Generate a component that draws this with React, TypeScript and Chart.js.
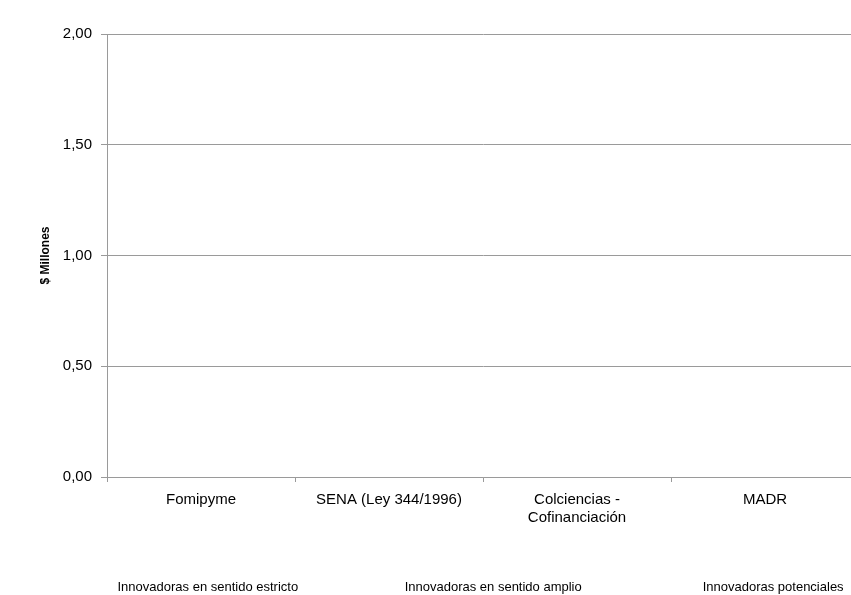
import React, { useEffect, useRef } from "react";
import { Chart, registerables } from "chart.js";

Chart.register(...registerables);

const categories: (string | string[])[] = [
  "Fomipyme",
  "SENA (Ley 344/1996)",
  ["Colciencias -", "Cofinanciación"],
  "MADR",
];
const seriesNames = [
  "Innovadoras en sentido estricto",
  "Innovadoras en sentido amplio",
  "Innovadoras potenciales",
];
const estricto = [0, 0, 0, 0];
const amplio = [0, 0, 0, 0];
const potenciales = [0, 0, 0, 0];
const yMin = 0;
const yMax = 2;
const yStep = 0.5;
const yTitle = "$ Millones";

const GRAY = "#9a9a9a";
const FONT = "'Liberation Sans', Arial, sans-serif";

export default function App() {
  const ref = useRef<HTMLCanvasElement>(null);
  useEffect(() => {
    if (!ref.current) return;
    const chart = new Chart(ref.current, {
      type: "bar",
      data: {
        labels: categories,
        datasets: [estricto, amplio, potenciales].map((d, i) => ({
          label: seriesNames[i],
          data: d,
          backgroundColor: "rgba(0,0,0,0)",
          borderColor: "rgba(0,0,0,0)",
          borderWidth: 0,
        })),
      },
      options: {
        animation: false,
        responsive: false,
        maintainAspectRatio: false,
        layout: { padding: { top: 34, right: 21, left: 11, bottom: 0 } },
        plugins: {
          tooltip: { enabled: false },
          legend: {
            position: "bottom",
            align: "start",
            labels: {
              boxWidth: 90,
              boxHeight: 0,
              padding: 10,
              color: "#000",
              font: { family: FONT, size: 13 },
              generateLabels: (c: any) => {
                const items = Chart.defaults.plugins.legend.labels.generateLabels(c);
                // widen the middle entry slightly to reproduce the original's uneven spacing
                return items.map((it: any, i: number) =>
                  i === 1 ? { ...it, text: it.text + "    " } : it
                );
              },
            },
          },
        },
        scales: {
          x: {
            offset: true,
            afterFit: (s: any) => {
              s.height = 94;
            },
            grid: {
              offset: true,
              drawOnChartArea: false,
              drawTicks: true,
              tickLength: 5,
              color: GRAY,
            },
            border: { color: GRAY },
            ticks: {
              color: "#000",
              padding: 9,
              maxRotation: 0,
              autoSkip: false,
              font: { family: FONT, size: 15, lineHeight: 1.2 },
            },
          },
          y: {
            min: yMin,
            max: yMax,
            afterFit: (s: any) => {
              s.width = 96;
            },
            grid: { color: GRAY, tickLength: 6 },
            border: { color: GRAY },
            ticks: {
              stepSize: yStep,
              padding: 9,
              color: "#000",
              font: { family: FONT, size: 15 },
              callback: (v: any) => Number(v).toFixed(2).replace(".", ","),
            },
            title: {
              display: true,
              text: yTitle,
              color: "#000",
              padding: { top: 27, bottom: 0 },
              font: { family: FONT, size: 12, weight: "bold" },
            },
          },
        },
      },
    });
    return () => chart.destroy();
  }, []);
  return (
    <div
      style={{
        position: "fixed",
        left: 0,
        top: 0,
        width: 851,
        height: 595,
        overflow: "hidden",
        background: "#fff",
      }}
    >
      <canvas ref={ref} width={880} height={604} style={{ display: "block" }} />
    </div>
  );
}
